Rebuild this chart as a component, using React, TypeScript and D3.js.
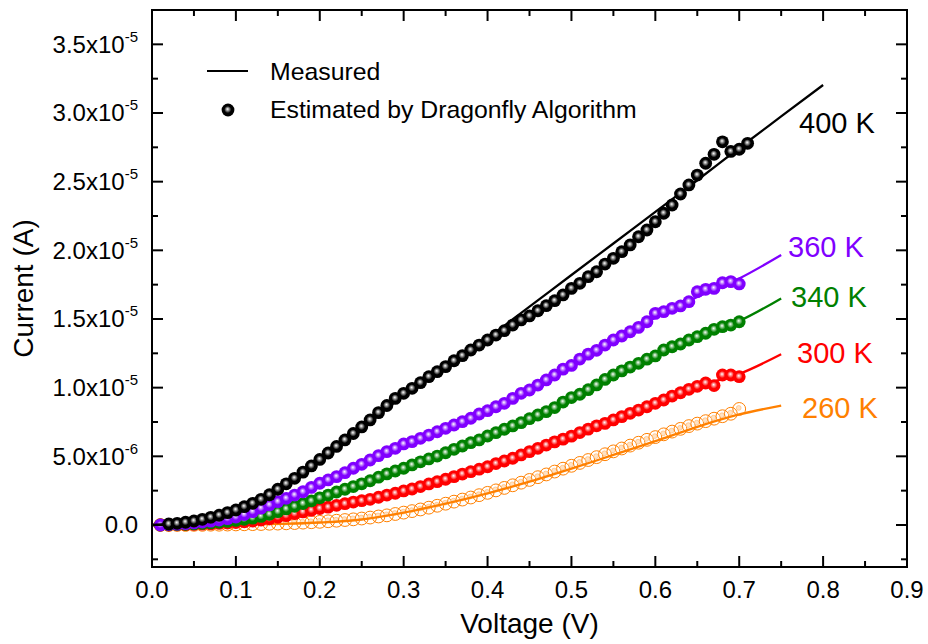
import React from "react";
import * as d3 from "d3";

// ---------- data (current in µA) ----------
const temperatures = ["400 K", "360 K", "340 K", "300 K", "260 K"];
const colors = ["#000000", "#8000FF", "#008000", "#FF0000", "#FF8000"];

const vStart400 = 0.02;
const vStartOther = 0.01;
const vStep = 0.01;

const est400 = [0.07, 0.12, 0.2, 0.29, 0.41, 0.56, 0.71, 0.9, 1.09, 1.33, 1.58, 1.87, 2.2, 2.6, 3.0, 3.4, 3.85, 4.3, 4.77, 5.24, 5.72, 6.19, 6.66, 7.14, 7.65, 8.18, 8.7, 9.22, 9.59, 9.95, 10.36, 10.8, 11.16, 11.53, 11.96, 12.33, 12.74, 13.1, 13.47, 13.83, 14.15, 14.56, 14.93, 15.22, 15.6, 15.97, 16.33, 16.75, 17.23, 17.6, 18.08, 18.44, 19.0, 19.42, 19.9, 20.39, 20.99, 21.48, 22.08, 22.7, 23.3, 24.1, 24.76, 25.48, 26.34, 26.99, 27.9, 27.2, 27.36, 27.79];
const est360 = [0.0, 0.03, 0.06, 0.1, 0.15, 0.21, 0.28, 0.36, 0.46, 0.58, 0.76, 0.97, 1.22, 1.46, 1.7, 1.94, 2.18, 2.42, 2.74, 3.04, 3.28, 3.52, 3.81, 4.13, 4.42, 4.73, 5.05, 5.34, 5.58, 5.9, 6.07, 6.31, 6.55, 6.79, 7.04, 7.28, 7.52, 7.77, 8.08, 8.32, 8.61, 8.86, 9.22, 9.59, 9.83, 10.19, 10.56, 10.92, 11.35, 11.62, 12.08, 12.44, 12.72, 13.1, 13.47, 13.76, 14.07, 14.39, 14.8, 15.41, 15.53, 15.78, 15.95, 16.26, 16.99, 17.16, 17.23, 17.64, 17.72, 17.55];
const est340 = [0.0, 0.01, 0.03, 0.05, 0.08, 0.11, 0.15, 0.2, 0.26, 0.33, 0.41, 0.5, 0.62, 0.78, 0.97, 1.17, 1.36, 1.56, 1.76, 1.98, 2.18, 2.4, 2.6, 2.8, 3.0, 3.22, 3.48, 3.72, 3.93, 4.13, 4.37, 4.6, 4.81, 5.02, 5.26, 5.51, 5.75, 5.99, 6.19, 6.48, 6.72, 6.97, 7.21, 7.45, 7.74, 8.01, 8.25, 8.55, 8.95, 9.28, 9.52, 9.85, 10.2, 10.6, 10.92, 11.22, 11.5, 11.77, 12.07, 12.31, 12.74, 12.98, 13.18, 13.47, 13.71, 13.96, 14.25, 14.44, 14.56, 14.8];
const est300 = [0.0, 0.0, 0.01, 0.02, 0.04, 0.06, 0.08, 0.11, 0.14, 0.18, 0.23, 0.29, 0.36, 0.45, 0.56, 0.68, 0.82, 0.95, 1.07, 1.2, 1.3, 1.43, 1.55, 1.67, 1.77, 1.87, 2.02, 2.18, 2.31, 2.48, 2.62, 2.8, 2.99, 3.15, 3.33, 3.52, 3.71, 3.88, 4.06, 4.24, 4.47, 4.66, 4.86, 5.1, 5.34, 5.58, 5.82, 6.05, 6.25, 6.47, 6.73, 6.98, 7.22, 7.4, 7.65, 7.89, 8.13, 8.37, 8.61, 8.86, 9.1, 9.39, 9.63, 9.88, 10.1, 10.34, 10.15, 10.92, 10.92, 10.8];
const est260 = [0.0, 0.0, 0.0, 0.0, 0.01, 0.01, 0.02, 0.02, 0.03, 0.04, 0.05, 0.06, 0.07, 0.09, 0.1, 0.12, 0.14, 0.17, 0.2, 0.23, 0.27, 0.31, 0.36, 0.41, 0.47, 0.54, 0.62, 0.7, 0.8, 0.9, 1.01, 1.13, 1.26, 1.4, 1.55, 1.7, 1.85, 2.0, 2.17, 2.34, 2.52, 2.7, 2.89, 3.08, 3.28, 3.48, 3.68, 3.89, 4.1, 4.31, 4.52, 4.73, 4.94, 5.15, 5.36, 5.57, 5.78, 5.99, 6.2, 6.4, 6.6, 6.8, 7.0, 7.2, 7.38, 7.56, 7.74, 7.92, 8.1, 8.45];

const measV400 = [0, 0.05, 0.1, 0.15, 0.2, 0.25, 0.3, 0.35, 0.4, 0.45, 0.5, 0.55, 0.6, 0.65, 0.7, 0.75, 0.8];
const meas400 = [0, 0.3, 1.1, 2.65, 4.7, 7.0, 9.45, 11.55, 13.6, 15.9, 18.2, 20.5, 22.8, 25.1, 27.45, 29.75, 32.04];
const measV = [0, 0.05, 0.1, 0.15, 0.2, 0.25, 0.3, 0.35, 0.4, 0.45, 0.5, 0.55, 0.6, 0.65, 0.7, 0.75];
const meas360 = [0, 0.15, 0.6, 1.7, 3.0, 4.4, 5.8, 7.05, 8.35, 9.85, 11.6, 13.4, 15.1, 16.6, 17.95, 19.66];
const meas340 = [0, 0.08, 0.33, 0.97, 1.98, 3.0, 4.13, 5.26, 6.48, 7.74, 9.28, 10.92, 12.31, 13.71, 14.85, 16.5];
const meas300 = [0, 0.04, 0.18, 0.56, 1.2, 1.77, 2.48, 3.33, 4.24, 5.34, 6.47, 7.65, 8.86, 10.1, 11.0, 12.43];
const meas260 = [0, 0.0, 0.03, 0.08, 0.18, 0.4, 0.9, 1.55, 2.3, 3.15, 4.1, 5.1, 6.1, 7.15, 8.05, 8.69];

const xTicks = [0, 0.1, 0.2, 0.3, 0.4, 0.5, 0.6, 0.7, 0.8, 0.9];
const xTickLabels = ["0.0", "0.1", "0.2", "0.3", "0.4", "0.5", "0.6", "0.7", "0.8", "0.9"];
const xMinor = [0.05, 0.15, 0.25, 0.35, 0.45, 0.55, 0.65, 0.75, 0.85];
const yTicks = [0, 5, 10, 15, 20, 25, 30, 35];
const yTickMantissa = ["0.0", "5.0x10", "1.0x10", "1.5x10", "2.0x10", "2.5x10", "3.0x10", "3.5x10"];
const yTickExp = ["", "-6", "-5", "-5", "-5", "-5", "-5", "-5"];
const yMinor = [-2.5, 2.5, 7.5, 12.5, 17.5, 22.5, 27.5, 32.5];

const legendLabels = ["Measured", "Estimated by Dragonfly Algorithm"];

// ---------- layout ----------
const W = 928;
const H = 644;
const L = 152, R = 907, T = 10, B = 567;
const FONT = "'Liberation Sans', Arial, Helvetica, sans-serif";

const x = d3.scaleLinear().domain([0, 0.9]).range([L, R]);
const y = d3.scaleLinear().domain([-3.06, 37.5]).range([B, T]);

const line = d3
  .line<[number, number]>()
  .x((d) => x(d[0]))
  .y((d) => y(d[1]))
  .curve(d3.curveMonotoneX);

const estSeries = [est400, est360, est340, est300, est260];
const measSeries = [meas400, meas360, meas340, meas300, meas260];
const labelPos = [
  [799, 133],
  [788, 257],
  [791, 307],
  [797, 363],
  [802, 418],
];

function pts(values: number[], start: number): [number, number][] {
  return values.map((v, i) => [+(start + i * vStep).toFixed(3), v]);
}

export default function App() {
  const R0 = 6.4;
  const order = [4, 3, 2, 1, 0];
  return (
    <svg
      width={W}
      height={H}
      style={{ position: "absolute", left: 0, top: 0, background: "#fff" }}
      fontFamily={FONT}
    >
      <defs>
        {colors.map((c, i) => (
          <radialGradient key={i} id={`sph${i}`} cx="50%" cy="50%" r="50%" fx="46%" fy="42%">
            <stop offset="0%" stopColor="#ffffff" />
            <stop offset="22%" stopColor={d3.interpolateRgb(c, "#ffffff")(i === 0 ? 0.62 : 0.6)} />
            <stop offset="55%" stopColor={c} />
            <stop offset="100%" stopColor={c} />
          </radialGradient>
        ))}
      </defs>
      <rect x={0} y={0} width={W} height={H} fill="#fff" />

      {order.map((i) => {
        const c = colors[i];
        const mv = i === 0 ? measV400 : measV;
        const mpts = mv.map((v, k) => [v, measSeries[i][k]] as [number, number]);
        const epts = pts(estSeries[i], i === 0 ? vStart400 : vStartOther);
        const path = (
          <path d={line(mpts) || ""} fill="none" stroke={c} strokeWidth={2.3} />
        );
        const dots =
          i === 4 ? (
            <g>
              {epts.map((p, k) => (
                <g key={k}>
                  <circle cx={x(p[0])} cy={y(p[1])} r={R0} fill="none" stroke={c} strokeWidth={1} />
                  <circle cx={x(p[0]) - 0.5} cy={y(p[1]) - 1} r={2.4} fill="#ffe2c4" stroke="#ffb466" strokeWidth={0.6} />
                </g>
              ))}
            </g>
          ) : (
            <g>
              {epts.map((p, k) => (
                <circle key={k} cx={x(p[0])} cy={y(p[1])} r={R0} fill={`url(#sph${i})`} />
              ))}
            </g>
          );
        return (
          <g key={i}>
            {i === 4 ? dots : path}
            {i === 4 ? path : dots}
          </g>
        );
      })}

      {/* frame */}
      <rect x={L} y={T} width={R - L} height={B - T} fill="none" stroke="#000" strokeWidth={2} />

      {/* x ticks */}
      {xTicks.map((t, k) => (
        <g key={`xt${k}`}>
          <line x1={x(t)} x2={x(t)} y1={B} y2={B - 11} stroke="#000" strokeWidth={2} />
          <line x1={x(t)} x2={x(t)} y1={T} y2={T + 11} stroke="#000" strokeWidth={2} />
          <text x={x(t)} y={598} textAnchor="middle" fontSize={24} fill="#000">
            {xTickLabels[k]}
          </text>
        </g>
      ))}
      {xMinor.map((t, k) => (
        <g key={`xm${k}`}>
          <line x1={x(t)} x2={x(t)} y1={B} y2={B - 6} stroke="#000" strokeWidth={2} />
          <line x1={x(t)} x2={x(t)} y1={T} y2={T + 6} stroke="#000" strokeWidth={2} />
        </g>
      ))}

      {/* y ticks */}
      {yTicks.map((t, k) => (
        <g key={`yt${k}`}>
          <line x1={L} x2={L + 11} y1={y(t)} y2={y(t)} stroke="#000" strokeWidth={2} />
          <line x1={R} x2={R - 11} y1={y(t)} y2={y(t)} stroke="#000" strokeWidth={2} />
          <text x={138} y={y(t) + 8.5} textAnchor="end" fontSize={24} fill="#000">
            {yTickMantissa[k]}
            {yTickExp[k] ? (
              <tspan fontSize={15} dy={-11}>
                {yTickExp[k]}
              </tspan>
            ) : null}
          </text>
        </g>
      ))}
      {yMinor.map((t, k) => (
        <g key={`ym${k}`}>
          <line x1={L} x2={L + 6} y1={y(t)} y2={y(t)} stroke="#000" strokeWidth={2} />
          <line x1={R} x2={R - 6} y1={y(t)} y2={y(t)} stroke="#000" strokeWidth={2} />
        </g>
      ))}

      {/* axis titles */}
      <text x={(L + R) / 2} y={633} textAnchor="middle" fontSize={28} fill="#000">
        Voltage (V)
      </text>
      <text
        transform={`translate(33, ${(T + B) / 2}) rotate(-90)`}
        textAnchor="middle"
        fontSize={28}
        fill="#000"
      >
        Current (A)
      </text>

      {/* temperature labels */}
      {temperatures.map((t, i) => (
        <text key={t} x={labelPos[i][0]} y={labelPos[i][1]} fontSize={29} fill={colors[i]}>
          {t}
        </text>
      ))}

      {/* legend */}
      <line x1={207} x2={248} y1={71} y2={71} stroke="#000" strokeWidth={2.2} />
      <text x={270} y={80} fontSize={24.8} fill="#000">
        {legendLabels[0]}
      </text>
      <circle cx={228} cy={110} r={R0} fill="url(#sph0)" />
      <text x={270} y={118} fontSize={24.8} fill="#000">
        {legendLabels[1]}
      </text>
    </svg>
  );
}
